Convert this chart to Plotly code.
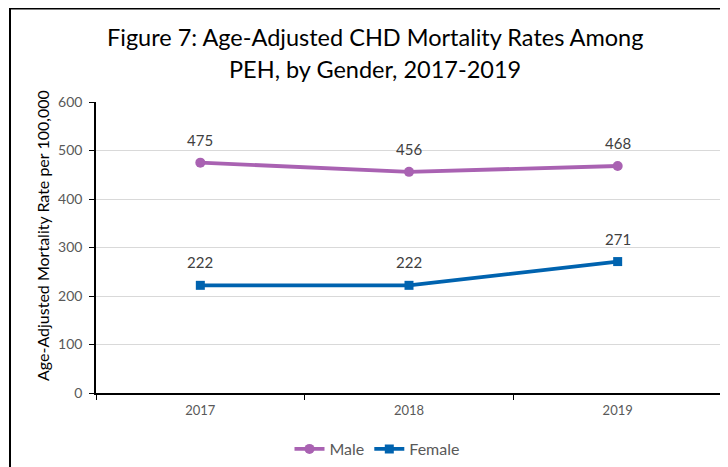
import plotly.graph_objects as go

years = ["2017", "2018", "2019"]
male = [475, 456, 468]
female = [222, 222, 271]
y_ticks = [0, 100, 200, 300, 400, 500, 600]

# page body has an 8px margin, so the figure is laid out in page coords minus 8
OFF = 8
W, H = 728 - OFF, 467 - OFF
PL, PR, PT, PB = 96, 722, 102, 393   # plot area in page pixels
ML, MR, MT, MB = PL - OFF, W - (PR - OFF), PT - OFF, H - (PB - OFF)
PW, PH = PR - PL, PB - PT

def px_x(p):
    return (p - PL) / PW

def px_y(p):
    return (PB - p) / PH

FONT = "Lato"
MALE_C = "#A962B2"
FEM_C = "#0063AF"
LBL_C = "#404040"
TICK_C = "#595959"

fig = go.Figure()
fig.add_trace(go.Scatter(x=years, y=male, name="Male", mode="lines+markers",
                         line=dict(color=MALE_C, width=3.8),
                         marker=dict(symbol="circle", size=10, color=MALE_C)))
fig.add_trace(go.Scatter(x=years, y=female, name="Female", mode="lines+markers",
                         line=dict(color=FEM_C, width=3.8),
                         marker=dict(symbol="square", size=9, color=FEM_C)))

annotations = []
for series in (male, female):
    for i, v in enumerate(series):
        annotations.append(dict(x=i, y=v, xref="x", yref="y", text=str(v),
                                showarrow=False, yshift=23,
                                font=dict(family=FONT, size=15, color=LBL_C)))

annotations.append(dict(x=px_x(375), y=px_y(37), xref="paper", yref="paper",
                        text="Figure 7: Age-Adjusted CHD Mortality Rates Among",
                        showarrow=False, xanchor="center", yanchor="middle",
                        font=dict(family=FONT, size=23.5, color="#000000")))
annotations.append(dict(x=px_x(375), y=px_y(69), xref="paper", yref="paper",
                        text="PEH, by Gender, 2017-2019",
                        showarrow=False, xanchor="center", yanchor="middle",
                        font=dict(family=FONT, size=23.5, color="#000000")))
annotations.append(dict(x=px_x(42), y=px_y(236), xref="paper", yref="paper",
                        text="Age-Adjusted Mortality Rate per 100,000",
                        textangle=-90, showarrow=False,
                        xanchor="center", yanchor="middle",
                        font=dict(family=FONT, size=16, color="#000000")))

shapes = [
    dict(type="line", xref="paper", yref="paper", x0=px_x(10), x1=px_x(740),
         y0=px_y(8.5), y1=px_y(8.5), line=dict(color="#000000", width=2)),
    dict(type="line", xref="paper", yref="paper", x0=px_x(10), x1=px_x(10),
         y0=px_y(8), y1=px_y(480), line=dict(color="#000000", width=2)),
]

fig.update_layout(
    width=W, height=H,
    margin=dict(l=ML, r=MR, t=MT, b=MB, autoexpand=False),
    paper_bgcolor="white", plot_bgcolor="white",
    font=dict(family=FONT, color=TICK_C),
    annotations=annotations,
    shapes=shapes,
    showlegend=True,
    legend=dict(orientation="h", x=px_x(377), y=px_y(449),
                xanchor="center", yanchor="middle",
                font=dict(family=FONT, size=16, color=TICK_C),
                itemwidth=30, tracegroupgap=0),
    xaxis=dict(type="category", categoryorder="array", categoryarray=years,
               range=[-0.5, 2.5], showgrid=False, showline=True,
               linecolor="#000000", linewidth=1.5,
               ticks="outside", tickson="boundaries", ticklen=5,
               tickcolor="#000000", tickwidth=1, ticklabelstandoff=5,
               tickfont=dict(family=FONT, size=13, color=TICK_C)),
    yaxis=dict(range=[0, 600], tickvals=y_ticks, showgrid=True,
               gridcolor="#D9D9D9", gridwidth=1, zeroline=False,
               showline=True, linecolor="#000000", linewidth=1.5,
               ticks="outside", ticklen=5, tickcolor="#000000",
               ticklabelstandoff=4,
               tickfont=dict(family=FONT, size=14, color=TICK_C)),
)

fig.write_html("out.html")
